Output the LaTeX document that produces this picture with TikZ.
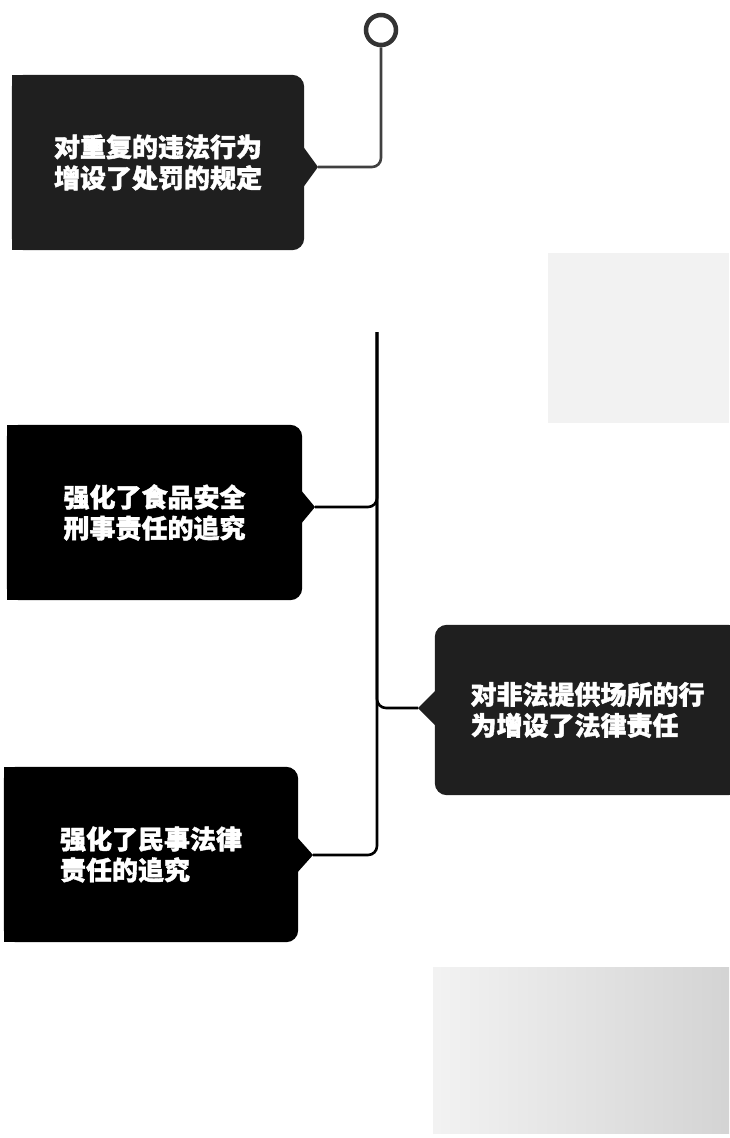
\documentclass[tikz,border=0pt]{standalone}
\usepackage{fontspec}
\newfontfamily\cjk{Noto Sans CJK SC}[BoldFont={Noto Sans CJK SC Black},BoldFeatures={FakeBold=1.5}]
\usetikzlibrary{positioning,backgrounds}

\tikzset{
  cardtext/.style={text=white, font=\cjk\bfseries\fontsize{26}{31}\selectfont, align=left, inner sep=0pt},
  link/.style={line width=2.6pt, rounded corners=9pt},
}

\begin{document}
\begin{tikzpicture}[x=1pt,y=-1pt]
\useasboundingbox (0,0) rectangle (729,1138);
%draw faded patches
\fill[black!5] (548,253) rectangle (729,423);
\shade[left color=black!5,right color=black!17] (433,967) rectangle (729,1133);
%draw top circle
\node[circle,draw=black!80,line width=4.5pt,minimum size=30pt,inner sep=0pt] (start) at (381,30) {};
%draw cards
\node[cardtext,minimum width=292pt,minimum height=175pt] (c1) at (158,162.5) {对重复的违法行为\\增设了处罚的规定};
\node[cardtext,minimum width=295pt,minimum height=175pt] (c2) at (154.5,512.5) {强化了食品安全\\刑事责任的追究};
\node[cardtext,minimum width=305pt,minimum height=170pt] (c3) at (587.5,710) {对非法提供场所的行\\为增设了法律责任};
\node[cardtext,minimum width=294pt,minimum height=175pt] (c4) at (151,854.5) {强化了民事法律\\责任的追究};
%tips of the cards and top of the spine
\coordinate (t1) at (318,167);
\coordinate (t2) at (315,507);
\coordinate (t3) at (418,708);
\coordinate (t4) at (313,855);
\coordinate (spine) at (377,332);
%card backgrounds
\begin{scope}[on background layer]
\fill[black!88,rounded corners=12pt] (c1.north west) rectangle (c1.south east);
\fill[black!88] (c1.north west) rectangle (c1.south);
\fill[black!88] (t1) -- ++(-16,-22) -- ++(0,44) -- cycle;
\fill[rounded corners=12pt] (c2.north west) rectangle (c2.south east);
\fill (c2.north west) rectangle (c2.south);
\fill (t2) -- ++(-15,-18) -- ++(0,36) -- cycle;
\fill[black!88,rounded corners=12pt] (c3.north west) rectangle (c3.south east);
\fill[black!88] (c3.north) rectangle (c3.south east);
\fill[black!88] (t3) -- ++(19,-19) -- ++(0,38) -- cycle;
\fill[rounded corners=12pt] (c4.north west) rectangle (c4.south east);
\fill (c4.north west) rectangle (c4.south);
\fill (t4) -- ++(-17,-19) -- ++(0,38) -- cycle;
\end{scope}
%draw connectors
\draw[link,black!75] (start) |- (t1);
\draw[link] (t2) -| (spine);
\draw[link] (t3) -| (spine);
\draw[link] (t4) -| (spine);
\end{tikzpicture}
\end{document}
